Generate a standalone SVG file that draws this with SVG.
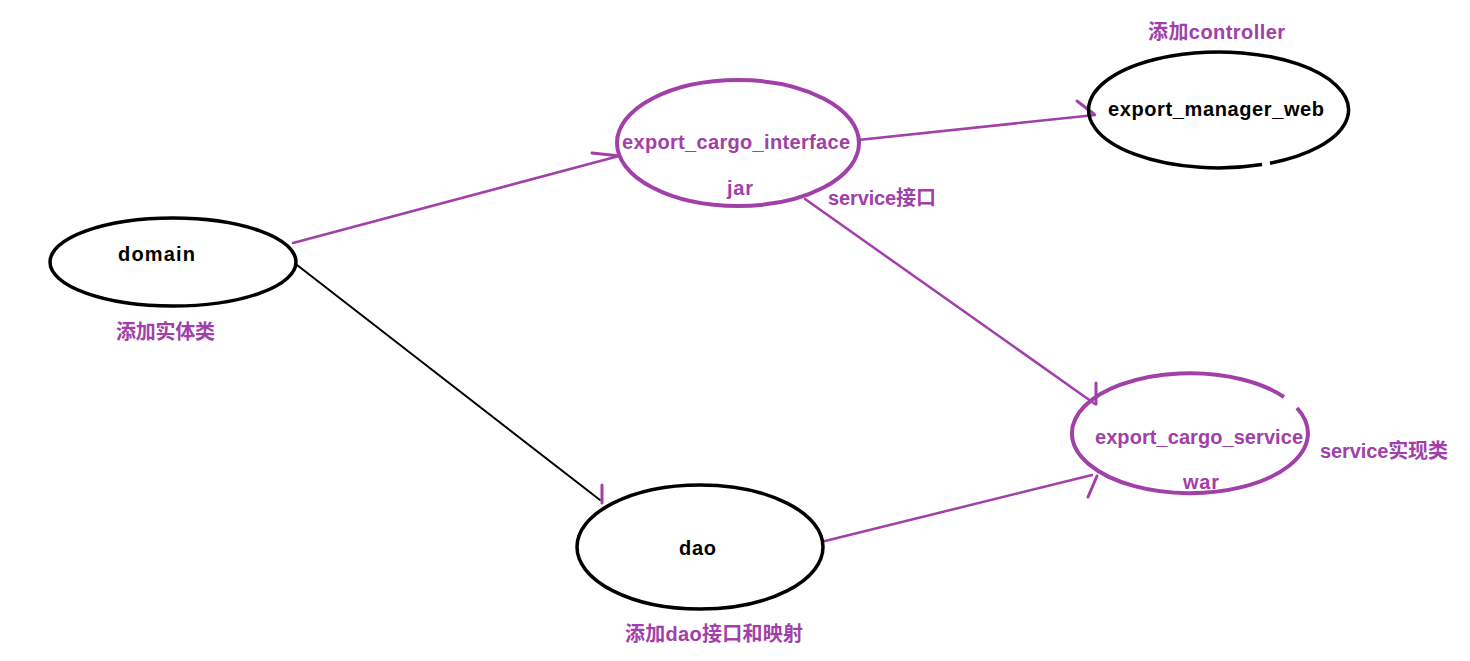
<svg xmlns="http://www.w3.org/2000/svg" width="1470" height="661" viewBox="0 0 1470 661">
<style>
.bg{fill:#ffffff}
.nb{fill:none;stroke:#000000;stroke-width:3.5}
.np{fill:none;stroke:#a040a8;stroke-width:4}
.lp{fill:none;stroke:#a040a8;stroke-width:2.5;stroke-linecap:round}
.lb{fill:none;stroke:#000000;stroke-width:2;stroke-linecap:round}
.ah{fill:none;stroke:#a040a8;stroke-width:3;stroke-linecap:round}
text{font-family:"Liberation Sans","Noto Sans CJK SC",sans-serif;font-weight:bold;font-size:20px}
.tb{fill:#000000}
.tp{fill:#a040a8}
</style>
<rect class="bg" x="0" y="0" width="1470" height="661"/>
<g id="connectors">
<line class="lp" x1="293" y1="243" x2="619" y2="156"/>
<path class="ah" d="M592,153 L620,156"/>
<line class="lp" x1="858" y1="140" x2="1095" y2="115"/>
<path class="ah" d="M1077,101 L1094,114"/>
<line class="lp" x1="805" y1="199" x2="1095" y2="404"/>
<path class="ah" d="M1096,383 L1096,404"/>
<line class="lp" x1="825" y1="541" x2="1092" y2="475"/>
<path class="ah" d="M1088,497 L1097,476"/>
<line class="lb" x1="297" y1="265" x2="600" y2="500"/>
<path class="ah" d="M602,485 L602,503"/>
</g>
<g id="domain">
<ellipse class="nb" cx="173" cy="262" rx="123" ry="44"/>
<text class="tb" x="118" y="261" textLength="77">domain</text>
<text class="tp" x="116" y="339" textLength="99">添加实体类</text>
</g>
<g id="export_cargo_interface">
<ellipse class="np" cx="738" cy="143" rx="121" ry="63"/>
<text class="tp" x="622" y="149" textLength="228">export_cargo_interface</text>
<text class="tp" x="727" y="195" textLength="26">jar</text>
<text class="tp" x="828" y="205" textLength="108">service接口</text>
</g>
<g id="export_manager_web">
<path class="nb" d="M1270,163.2 A130,58 0 1 0 1262,164.6"/>
<text class="tb" x="1108" y="116" textLength="216">export_manager_web</text>
<text class="tp" x="1148" y="39" textLength="137">添加controller</text>
</g>
<g id="export_cargo_service">
<path class="np" d="M1297,408 A118,60 0 1 1 1284,397"/>
<text class="tp" x="1095" y="444" textLength="208">export_cargo_service</text>
<text class="tp" x="1183" y="489" textLength="36">war</text>
<text class="tp" x="1320" y="458" textLength="128">service实现类</text>
</g>
<g id="dao">
<ellipse class="nb" cx="700" cy="547" rx="123" ry="62"/>
<text class="tb" x="679" y="555" textLength="37">dao</text>
<text class="tp" x="625" y="641" textLength="178">添加dao接口和映射</text>
</g>
</svg>
